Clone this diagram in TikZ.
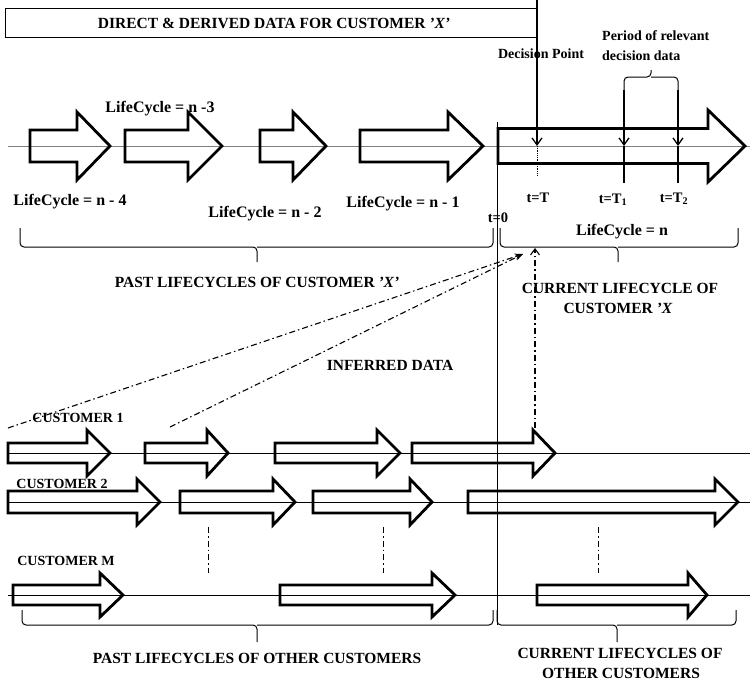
\documentclass[tikz,border=0pt]{standalone}
\usepackage{fontspec}
\setmainfont{Liberation Serif}
\usetikzlibrary{arrows.meta,calc,positioning}

\tikzset{
  lbl/.style={font=\bfseries\fontsize{16}{18}\selectfont,anchor=base,inner sep=0pt},
  caps/.style={font=\bfseries\fontsize{15.5}{18}\selectfont,anchor=base,inner sep=0pt},
  cust/.style={font=\bfseries\fontsize{14}{16}\selectfont,anchor=base,inner sep=0pt},
  small/.style={font=\bfseries\fontsize{14}{16}\selectfont,anchor=base,inner sep=0pt},
  blk/.style={line width=2.8pt,line join=miter},
  axis/.style={line width=0.9pt},
  ddot/.style={line width=1.1pt,dash pattern=on 6pt off 3pt on 1.5pt off 3pt},
  darr/.style={line width=1.3pt,-{Straight Barb[length=7pt,width=10pt]}},
  brc/.style={line width=1pt,rounded corners=4pt},
}
\newcommand{\blockarr}[6]{\draw[blk] (#1,#4-#5) -- (#2,#4-#5) -- (#2,#4-#6) -- (#3,#4) -- (#2,#4+#6) -- (#2,#4+#5) -- (#1,#4+#5) -- cycle;}

\begin{document}
\begin{tikzpicture}[x=1pt,y=-1pt]
\useasboundingbox (0,0) rectangle (750,683);
\draw[line width=1pt] (5,8) rectangle (537,37);
\node[caps] (title) at (274,28) {DIRECT \& DERIVED DATA FOR CUSTOMER \textit{'X'}};

\draw[axis,gray] (8,146) -- (750,146);
\draw[axis] (8,453) -- (750,453);
\draw[axis] (8,502) -- (750,502);
\draw[axis] (8,595) -- (750,595);
\draw[axis] (497,122) -- (497,625);

\blockarr{30}{77}{110}{146}{16}{34}
\blockarr{125}{188}{222}{146}{16}{34}
\blockarr{260}{293}{326}{146}{16}{34}
\blockarr{360}{448}{483}{146}{16}{34}
\blockarr{498}{708}{745}{146}{17.5}{36}

\blockarr{8}{87}{110}{453}{10}{23}
\blockarr{145}{207}{228}{453}{10}{23}
\blockarr{275}{377}{400}{453}{10}{23}
\blockarr{412}{533}{555}{453}{10}{23}

\blockarr{8}{137}{160}{502}{11}{23}
\blockarr{180}{273}{295}{502}{11}{23}
\blockarr{313}{410}{432}{502}{11}{23}
\blockarr{468}{715}{738}{502}{11}{23}

\blockarr{13}{100}{123}{595}{10}{22}
\blockarr{280}{432}{455}{595}{10}{22}
\blockarr{537}{688}{707}{595}{10}{22}

\node[lbl] (lc3) at (160,112) {LifeCycle = n -3};
\node[lbl] (lc4) at (70,205) {LifeCycle = n - 4};
\node[lbl] (lc2) at (265,217) {LifeCycle = n - 2};
\node[lbl] (lc1) at (403,207) {LifeCycle = n - 1};
\node[lbl] (lcn) at (622,235) {LifeCycle = n};

\coordinate (dp) at (537,0);
\coordinate (tT) at (537,146);
\coordinate (tA) at (624,146);
\coordinate (tB) at (678,146);
\draw[darr] (dp) -- (tT);
\draw[densely dotted,line width=0.8pt] (tT) -- (537,176);
\draw[brc] (624,95) -- (624,77) -- (651,77) -- (651,70);
\draw[brc] (651,77) -- (678,77) -- (678,95);
\draw[darr] (624,90) -- (tA);
\draw[darr] (678,90) -- (tB);
\draw[line width=1.3pt] (tA) -- (624,183);
\draw[line width=1.3pt] (tB) -- (678,183);

\node[small] (dpl) at (541,58) {Decision Point};
\node[small,anchor=base west] (per1) at (602,40) {Period of relevant};
\node[small,anchor=base west] (per2) at (602,60) {decision data};
\node[lbl,font=\bfseries\fontsize{14.5}{16}\selectfont] (tl) at (538,202) {t=T};
\node[lbl,font=\bfseries\fontsize{14.5}{16}\selectfont] (tl1) at (613,203) {t=T\textsubscript{1}};
\node[lbl,font=\bfseries\fontsize{14.5}{16}\selectfont] (tl2) at (674,202) {t=T\textsubscript{2}};
\node[lbl,font=\bfseries\fontsize{14.5}{16}\selectfont] (t0) at (498,222) {t=0};

\draw[brc] (20,228) -- (20,247) -- (257,247) -- (257,262);
\draw[brc] (257,247) -- (493,247) -- (493,228);
\draw[brc] (500,228) -- (500,247) -- (618,247) -- (618,262);
\draw[brc] (618,247) -- (738,247) -- (738,228);

\node[caps] (pastx) at (257,287) {PAST LIFECYCLES OF CUSTOMER \textit{'X'}};
\node[caps] (curx1) at (620,293) {CURRENT LIFECYCLE OF};
\node[caps] (curx2) at (618,313) {CUSTOMER \textit{'X}};
\node[caps] (inf) at (390,370) {INFERRED DATA};

\coordinate (conv) at (523,254);
\coordinate (convv) at (535,248);
\draw[ddot,-{Stealth[length=8pt,width=6pt]}] (8,428) -- (conv);
\draw[ddot,-{Stealth[length=8pt,width=6pt]}] (170,427) -- (conv);
\draw[ddot,-{Straight Barb[length=6pt,width=9pt]}] (535,428) -- (convv);

\node[cust] (c1) at (78,422) {CUSTOMER 1};
\node[cust] (c2) at (62,488) {CUSTOMER 2};
\node[cust] (cm) at (66,565) {CUSTOMER M};

\foreach \x in {208,383,598}
  \draw[ddot,line width=0.9pt] (\x,527) -- (\x,573);

\draw[brc] (22,610) -- (22,625) -- (257,625) -- (257,642);
\draw[brc] (257,625) -- (493,625) -- (493,610);
\draw[brc] (497,610) -- (497,625) -- (617,625) -- (617,642);
\draw[brc] (617,625) -- (736,625) -- (736,610);

\node[caps] (pasto) at (257,663) {PAST LIFECYCLES OF OTHER CUSTOMERS};
\node[caps] (curo1) at (620,658) {CURRENT LIFECYCLES OF};
\node[caps] (curo2) at (621,678) {OTHER CUSTOMERS};
\end{tikzpicture}
\end{document}
